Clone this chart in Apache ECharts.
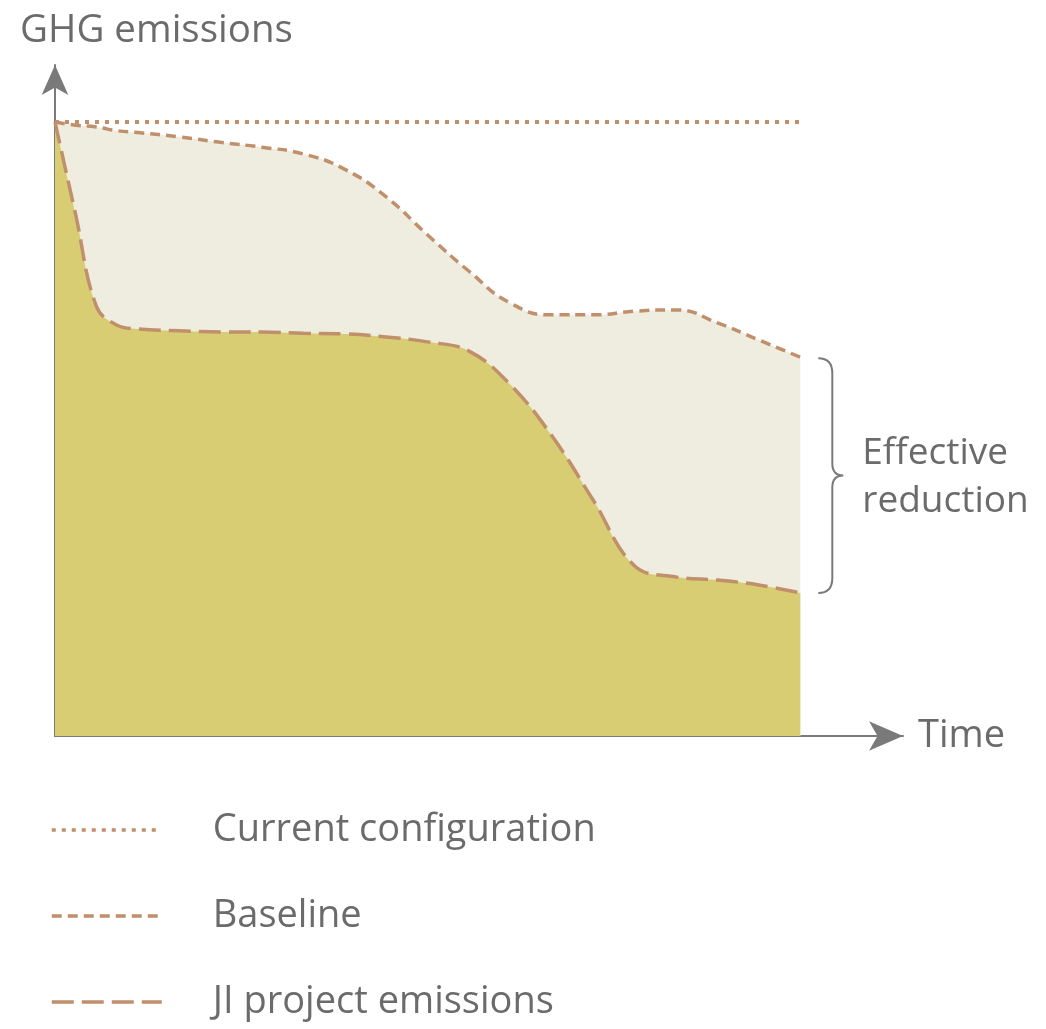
<!DOCTYPE html>
<html>
<head>
<meta charset="utf-8">
<title>GHG emissions</title>
<script src="https://cdn.jsdelivr.net/npm/echarts@6/dist/echarts.min.js"></script>
<style>
  html, body { margin: 0; padding: 0; background: #fff; }
  #main { width: 1046px; height: 1029px; }
</style>
</head>
<body>
<div id="main"></div>
<script>
// time steps (arbitrary units, project runs 0..9)
const timeSteps = [0, 0.25, 0.5, 0.75, 1, 1.5, 2, 2.5, 3, 3.5, 4, 4.5, 5, 5.5, 6, 6.5, 7, 7.5, 8, 8.5, 9]
const baseline = [100, 99.5, 99.2, 98.6, 98.3, 97.6, 96.7, 95.9, 94.8, 92.3, 87.8, 81.6, 75.7, 70.5, 68.6, 68.6, 69.2, 69.4, 67.3, 64.5, 61.7]
const jiProject = [100, 84.9, 70.0, 66.9, 66.3, 66.0, 65.8, 65.8, 65.6, 65.5, 65.0, 64.2, 62.7, 57.2, 48.9, 38.4, 27.7, 25.9, 25.4, 24.6, 23.3]
const currentTimes = [0, 9]
const currentLevel = [100, 100]

const LINE = '#c08f6c'
const TEXT = '#6b6b6b'
const AXIS = '#7a7a7a'
const FONT = '"Open Sans", sans-serif'

const zip = (xs, ys) => xs.map((x, i) => [x, ys[i]])

// curly brace between baseline end and project end
function renderBrace(params, api) {
    const top = api.coord([api.value(0), api.value(1)])
    const bot = api.coord([api.value(0), api.value(2)])
    const x0 = top[0]
    const yt = top[1] + 1
    const yb = bot[1]
    const ym = (yt + yb) / 2
    const xs = x0 + 32
    const path = [
        'M', x0 + 18, yt,
        'Q', xs, yt, xs, yt + 15,
        'L', xs, ym - 12,
        'Q', xs, ym, x0 + 43, ym,
        'Q', xs, ym, xs, ym + 12,
        'L', xs, yb - 15,
        'Q', xs, yb, x0 + 18, yb
    ].join(' ')
    return {
        type: 'group',
        children: [
            {
                type: 'path',
                shape: {pathData: path},
                style: {stroke: AXIS, lineWidth: 2, fill: null}
            },
            {
                type: 'text',
                x: x0 + 62,
                y: ym + 2,
                style: {
                    text: 'Effective\nreduction',
                    font: '37px ' + FONT,
                    fill: TEXT,
                    lineHeight: 48,
                    verticalAlign: 'middle'
                }
            }
        ]
    }
}

const chart = echarts.init(document.getElementById('main'))

chart.setOption({
    animation: false,
    backgroundColor: '#fff',
    title: {
        text: 'GHG emissions',
        left: 20,
        top: 12,
        padding: 0,
        textStyle: {fontFamily: FONT, fontSize: 38.5, fontWeight: 'normal', color: TEXT}
    },
    legend: {
        orient: 'vertical',
        left: 50,
        top: 810,
        padding: 0,
        itemWidth: 110,
        itemHeight: 4,
        itemGap: 46,
        itemStyle: {color: 'rgba(0,0,0,0)', borderWidth: 0},
        lineStyle: {width: 3.5},
        data: ['Current configuration', 'Baseline', 'JI project emissions'],
        textStyle: {fontFamily: FONT, fontSize: 38, color: TEXT, lineHeight: 40, padding: [0, 0, 0, 46]}
    },
    grid: {left: 55, top: 65, right: 143, bottom: 293, containLabel: false},
    xAxis: {
        type: 'value',
        min: 0,
        max: 10.24,
        name: 'Time',
        nameLocation: 'end',
        nameGap: 15,
        nameTextStyle: {fontFamily: FONT, fontSize: 38, color: TEXT, verticalAlign: 'middle'},
        axisLine: {
            lineStyle: {color: AXIS, width: 2},
            symbol: ['none', 'arrow'],
            symbolSize: [22, 34]
        },
        axisTick: {show: false},
        axisLabel: {show: false},
        splitLine: {show: false}
    },
    yAxis: {
        type: 'value',
        min: 0,
        max: 109.3,
        axisLine: {
            show: true,
            lineStyle: {color: AXIS, width: 2},
            symbol: ['none', 'arrow'],
            symbolSize: [20, 30]
        },
        axisTick: {show: false},
        axisLabel: {show: false},
        splitLine: {show: false}
    },
    series: [
        {
            name: 'Baseline',
            type: 'line',
            data: zip(timeSteps, baseline),
            symbol: 'none',
            smooth: 0.5,
            lineStyle: {color: LINE, width: 3.5, type: [10, 6]},
            itemStyle: {color: LINE},
            areaStyle: {color: '#efede0', opacity: 1},
            z: 2
        },
        {
            name: 'JI project emissions',
            type: 'line',
            data: zip(timeSteps, jiProject),
            symbol: 'none',
            smooth: 0.4,
            lineStyle: {color: LINE, width: 3.5, type: [22, 8]},
            itemStyle: {color: LINE},
            areaStyle: {color: '#d9cd73', opacity: 1},
            z: 3
        },
        {
            name: 'Current configuration',
            type: 'line',
            data: zip(currentTimes, currentLevel),
            symbol: 'none',
            lineStyle: {color: LINE, width: 4, type: [4, 6]},
            itemStyle: {color: LINE},
            z: 4
        },
        {
            type: 'custom',
            renderItem: renderBrace,
            data: [[timeSteps[timeSteps.length - 1], baseline[baseline.length - 1], jiProject[jiProject.length - 1]]],
            encode: {x: 0, y: [1, 2]},
            silent: true,
            clip: false,
            z: 5
        }
    ]
})
</script>
</body>
</html>
